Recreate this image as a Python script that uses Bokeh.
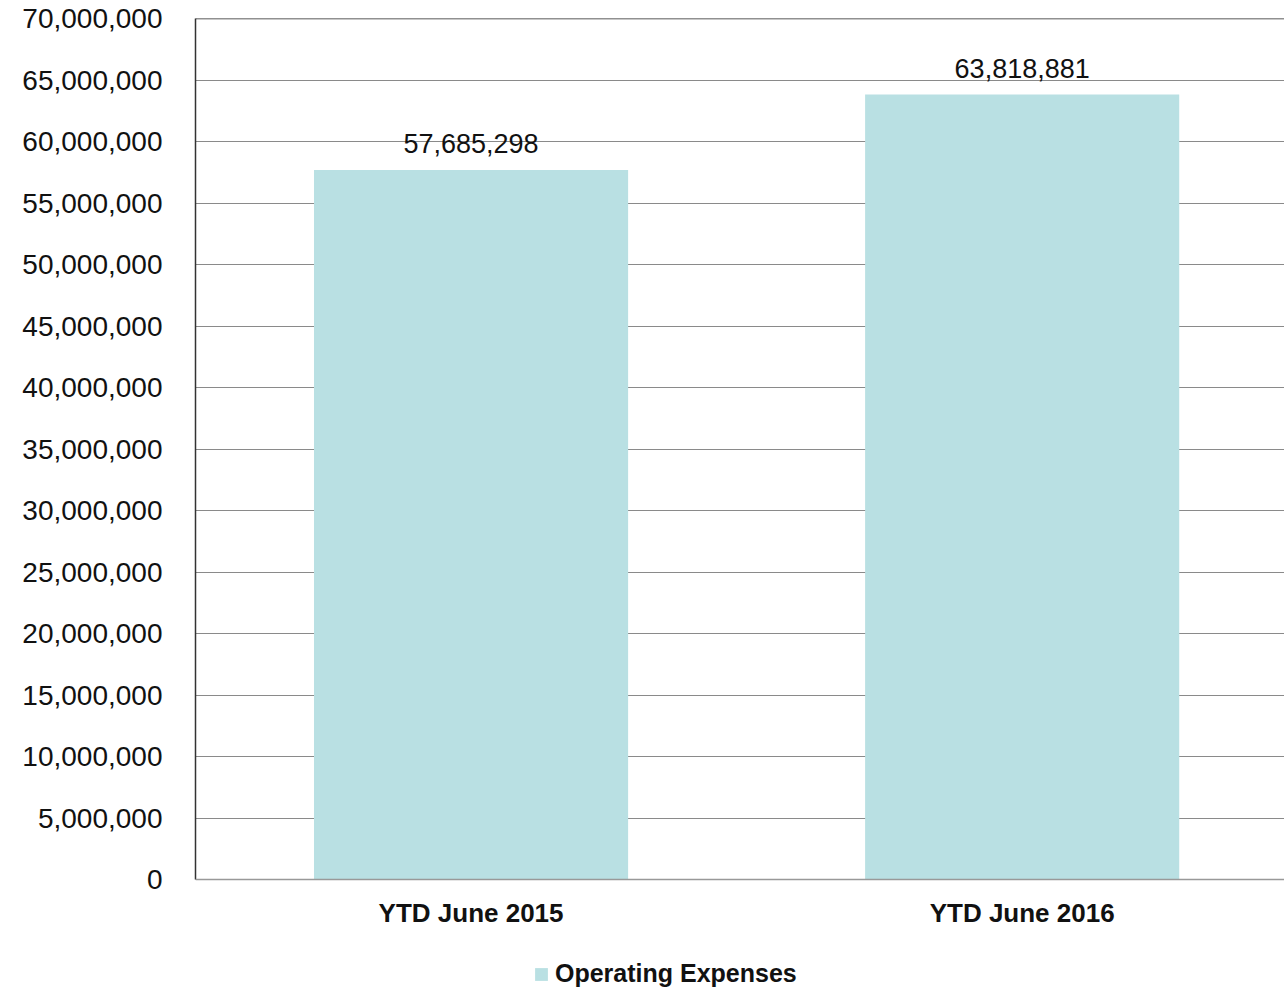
from bokeh.plotting import figure
from bokeh.models import (ColumnDataSource, LabelSet, FixedTicker, NumeralTickFormatter,
                          Range1d, Span, Legend, LegendItem)
from bokeh.core.properties import value
from bokeh.embed import file_html
from bokeh.resources import INLINE

categories = ["YTD June 2015", "YTD June 2016"]
values = [57685298, 63818881]
series_name = "Operating Expenses"
y_ticks = list(range(0, 70000001, 5000000))

BAR_COLOR = "#B9E0E3"

positions = list(range(len(categories)))
source = ColumnDataSource(dict(
    x=positions,
    top=values,
    base=[0] * len(values),
    cat=categories,
    label=["{:,}".format(v) for v in values],
))

Y_MAX = 70000000
# leave room below the zero line (inside the frame) for category labels and legend
Y_MIN = -Y_MAX * 111 / 861

p = figure(width=1284, height=990, output_backend="svg", toolbar_location=None,
           x_axis_location=None,
           x_range=Range1d(-0.5, 1.476), y_range=Range1d(Y_MIN, Y_MAX),
           min_border_left=195, min_border_right=0, min_border_top=18,
           min_border_bottom=0)
p.outline_line_color = None
p.background_fill_color = "white"
p.border_fill_color = "white"

bars = p.vbar(x="x", top="top", bottom="base", width=0.57, source=source,
              fill_color=BAR_COLOR, line_color=None)

labels = LabelSet(x="x", y="top", text="label", source=source, text_align="center",
                  text_baseline="bottom", y_offset=17, text_font=value("Liberation Sans"),
                  text_font_size=value("27px"), text_color=value("#111111"))
p.add_layout(labels)

cat_labels = LabelSet(x="x", y="base", text="cat", source=source, text_align="center",
                      text_baseline="top", y_offset=-18, text_font=value("Liberation Sans"),
                      text_font_style=value("bold"),
                      text_font_size=value("26px"), text_color=value("#111111"))
p.add_layout(cat_labels)

# top border line and zero (category axis) line
p.add_layout(Span(location=Y_MAX, dimension="width", line_color="#222222", line_width=1.5))
p.add_layout(Span(location=0, dimension="width", line_color="#999999", line_width=1.5))

# y axis
p.yaxis.ticker = FixedTicker(ticks=y_ticks)
p.yaxis.bounds = (0, Y_MAX)
p.yaxis.formatter = NumeralTickFormatter(format="0,0")
p.yaxis.major_tick_line_color = None
p.yaxis.minor_tick_line_color = None
p.yaxis.major_label_standoff = 27
p.yaxis.major_label_text_font = "Liberation Sans"
p.yaxis.major_label_text_font_size = "28px"
p.yaxis.major_label_text_color = "#111111"
p.yaxis.axis_line_color = "#333333"
p.yaxis.axis_line_width = 1.5

p.xgrid.grid_line_color = None
p.ygrid.grid_line_color = "#8a8a8a"
p.ygrid.grid_line_width = 1

legend = Legend(items=[LegendItem(label=series_name, renderers=[bars])],
                location=(338, 2), orientation="horizontal",
                label_text_font="Liberation Sans", label_text_font_style="bold",
                label_text_font_size="25px", label_text_color="#111111",
                glyph_width=16, glyph_height=16, label_standoff=6,
                padding=0, margin=0, border_line_color=None,
                background_fill_alpha=0)
p.add_layout(legend)

open("out.html", "w").write(file_html(p, INLINE))
